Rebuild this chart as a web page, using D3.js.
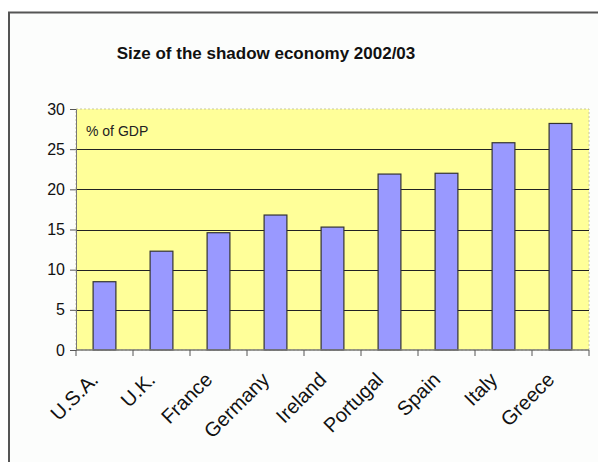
<!DOCTYPE html>
<html><head><meta charset="utf-8">
<script src="https://cdn.jsdelivr.net/npm/d3@7"></script>
<style>body{margin:0;background:#fff}svg{display:block}</style>
</head><body>
<script>
const categories = ["U.S.A.","U.K.","France","Germany","Ireland","Portugal","Spain","Italy","Greece"];
const values = [8.5, 12.3, 14.6, 16.8, 15.3, 21.9, 22.0, 25.8, 28.2];
const yTicks = [0,5,10,15,20,25,30];
const title = "Size of the shadow economy 2002/03";
const unitLabel = "% of GDP";

const W = 598, H = 462;
const m = {left:76, right:9, top:109, bottom:112};
const FONT = "Arial, 'Liberation Sans', sans-serif";
const svg = d3.select("body").append("svg").attr("width",W).attr("height",H);
svg.append("rect").attr("x",0).attr("y",0).attr("width",W).attr("height",H).attr("fill","#fff");
svg.append("rect").attr("x",9).attr("y",12.5).attr("width",W).attr("height",H).attr("fill","#fcfdfc").attr("stroke","#555").attr("stroke-width",2);

const x = d3.scaleBand().domain(categories).range([m.left, W-m.right]).paddingInner(0.6).paddingOuter(0.3);
const xb = d3.scaleBand().domain(categories).range([m.left, W-m.right]);
const y = d3.scaleLinear().domain([0,30]).range([H-m.bottom, m.top]);

svg.append("rect").attr("x",m.left).attr("y",m.top).attr("width",W-m.right-m.left).attr("height",H-m.bottom-m.top)
  .attr("fill","#ffff99").attr("stroke","#c8c8a0").attr("stroke-dasharray","2,2");

svg.append("g").selectAll("line").data(yTicks.filter(d=>d>0 && d<30)).join("line")
  .attr("x1",m.left).attr("x2",W-m.right).attr("y1",d=>Math.round(y(d))+0.5).attr("y2",d=>Math.round(y(d))+0.5)
  .attr("stroke","#222").attr("stroke-width",1.2);

svg.append("g").selectAll("rect").data(values).join("rect")
  .attr("x",(d,i)=>x(categories[i])).attr("width",x.bandwidth())
  .attr("y",d=>y(d)).attr("height",d=>y(0)-y(d))
  .attr("fill","#9999ff").attr("stroke","#333").attr("stroke-width",1.2);

// Y axis
const ya = svg.append("g").attr("transform",`translate(${m.left},0)`)
  .call(d3.axisLeft(y).tickValues(yTicks).tickSize(6).tickPadding(5));
ya.select(".domain").attr("stroke","#777");
ya.selectAll(".tick line").attr("stroke","#555");
ya.selectAll("text").attr("font-family",FONT).attr("font-size",16).attr("fill","#111");

// X axis
const xg = svg.append("g").attr("transform",`translate(0,${y(0)})`);
xg.append("line").attr("x1",m.left).attr("x2",W-m.right).attr("y1",0).attr("y2",0).attr("stroke","#777").attr("stroke-width",1.5);
const bounds = categories.map(c=>xb(c)).concat([W-m.right]);
xg.selectAll("line.t").data(bounds).join("line").attr("class","t")
  .attr("x1",d=>d).attr("x2",d=>d).attr("y1",0).attr("y2",6).attr("stroke","#555");
xg.selectAll("text").data(categories).join("text")
  .attr("transform",d=>`translate(${xb(d)+xb.bandwidth()/2-5},${31}) rotate(-45)`)
  .attr("text-anchor","end")
  .attr("font-family",FONT).attr("font-size",20).attr("fill","#111")
  .text(d=>d);

svg.append("text").attr("x",86).attr("y",136).attr("font-family",FONT)
  .attr("font-size",14).attr("fill","#222").text(unitLabel);

svg.append("text").attr("x",266).attr("y",59).attr("text-anchor","middle")
  .attr("font-family",FONT).attr("font-weight","bold").attr("font-size",17).attr("fill","#111")
  .text(title);
</script>
</body></html>
